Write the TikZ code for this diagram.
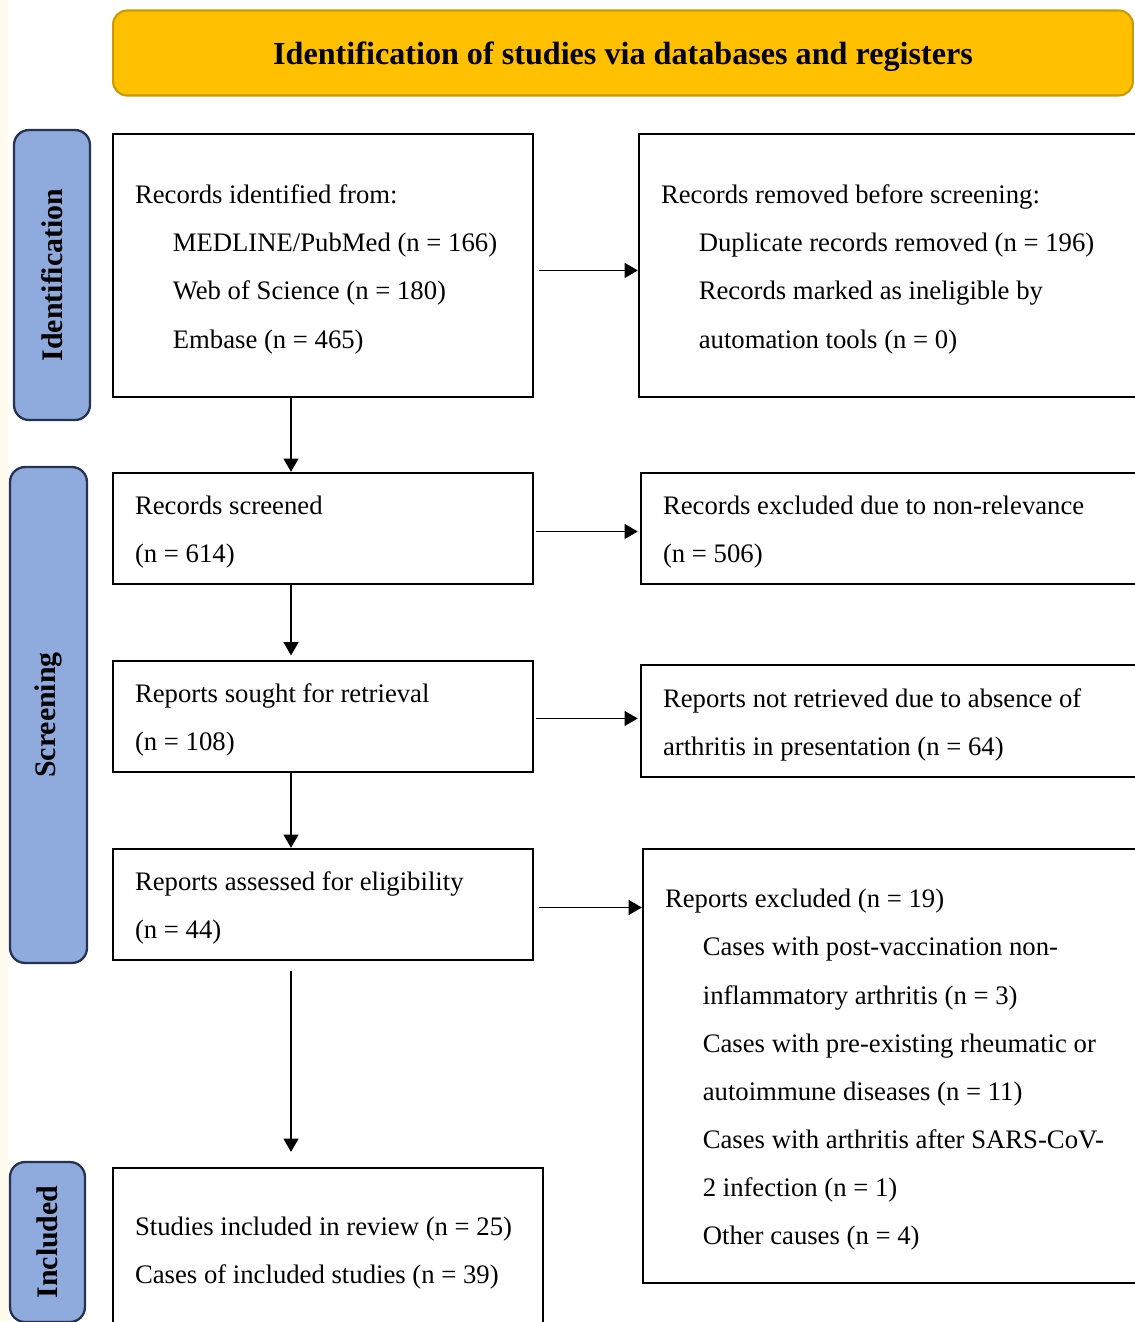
\documentclass[tikz,border=0pt]{standalone}
\usepackage{fontspec}
\setmainfont{Liberation Serif}
\usetikzlibrary{arrows.meta}
\definecolor{bannergold}{HTML}{FFC000}
\definecolor{bannerline}{HTML}{C99A06}
\definecolor{stripblue}{HTML}{8FAADC}
\definecolor{stripline}{HTML}{26324F}
\definecolor{pagecream}{HTML}{FFFCEE}
\newcommand{\indline}{\hspace*{21.5pt}}
\tikzset{
  flowbox/.style={draw, line width=1.4pt, rectangle, inner xsep=0.44cm, inner ysep=0pt,
    align=flush left, font=\fontsize{15.2pt}{27.4pt}\selectfont,
    execute at begin node={\rule{0pt}{15pt}}},
  phase/.style={draw=stripline, fill=stripblue, line width=1.3pt, rounded corners=0.3cm,
    rotate=90, minimum height=1.52cm, font=\fontsize{17pt}{20pt}\selectfont\bfseries},
  flow/.style={-{Triangle[length=7.5pt,width=8.5pt]}, line width=0.85pt},
}
\begin{document}
\begin{tikzpicture}[x=0.02cm, y=-0.02cm]
    \useasboundingbox (0,0) rectangle (1135,1322);
    \fill[white] (0,0) rectangle (1135,1322);
    \fill[pagecream] (0,0) rectangle (8,1322);
    % banner
    \node (A0_1) [draw=bannerline, fill=bannergold, line width=1.2pt, rounded corners=0.28cm,
      minimum width=20.4cm, minimum height=1.7cm, text depth=0pt,
      font=\fontsize{18.3pt}{22pt}\selectfont\bfseries]
      at (623,53) {Identification of studies via databases and registers};
    % phases
    \node (P1) [phase, minimum width=5.8cm] at (52,275) {Identification};
    \node (P2) [phase, minimum width=9.92cm, minimum height=1.54cm] at (48.5,715) {Screening};
    \node (P3) [phase, minimum width=3.2cm, minimum height=1.5cm] at (47.5,1242) {Included};
    % left column
    \node (A1_0) [flowbox, text width=7.52cm, minimum height=5.26cm] at (323,265.5)
      {Records identified from:\\ \indline MEDLINE/PubMed (n = 166)\\ \indline Web of Science (n = 180)\\ \indline Embase (n = 465)};
    \node (A2_0) [flowbox, text width=7.52cm, minimum height=2.22cm] at (323,528.5)
      {Records screened\\ (n = 614)};
    \node (A3_0) [flowbox, text width=7.52cm, minimum height=2.22cm] at (323,716.5)
      {Reports sought for retrieval\\ (n = 108)};
    \node (A4_0) [flowbox, text width=7.52cm, minimum height=2.22cm] at (323,904.5)
      {Reports assessed for eligibility\\ (n = 44)};
    \node (A5_0) [flowbox, text width=7.72cm, minimum height=3.24cm] at (328,1249)
      {Studies included in review (n = 25)\\ Cases of included studies (n = 39)};
    % right column
    \node (A1_1) [flowbox, text width=9.24cm, minimum height=5.26cm] at (892,265.5)
      {Records removed before screening:\\ \indline Duplicate records removed (n = 196)\\ \indline Records marked as ineligible by\\ \indline automation tools (n = 0)};
    \node (A2_1) [flowbox, text width=9.2cm, minimum height=2.22cm] at (893,528.5)
      {Records excluded due to non-relevance\\ (n = 506)};
    \node (A3_1) [flowbox, text width=9.2cm, minimum height=2.24cm] at (893,721)
      {Reports not retrieved due to absence of\\ arthritis in presentation (n = 64)};
    \node (A4_1) [flowbox, text width=9.16cm, minimum height=8.68cm] at (894,1066)
      {Reports excluded (n = 19)\\ \indline Cases with post-vaccination non-\\ \indline inflammatory arthritis (n = 3)\\
       \indline Cases with pre-existing rheumatic or\\ \indline autoimmune diseases (n = 11)\\
       \indline Cases with arthritis after SARS-CoV-\\ \indline 2 infection (n = 1)\\ \indline Other causes (n = 4)};
    % arrows
    \coordinate (spine) at (291,0);
    \draw[flow, shorten <=2.8pt] ([yshift=-2.8pt]A1_0.east) -- ([yshift=-2.8pt]A1_0.east -| A1_1.west);
    \draw[flow, shorten <=1.2pt, shorten >=1.2pt] ([yshift=-1.7pt]A2_0.east) -- ([yshift=-1.7pt]A2_0.east -| A2_1.west);
    \draw[flow, shorten <=1.2pt, shorten >=1.2pt] ([yshift=-1.1pt]A3_0.east) -- ([yshift=-1.1pt]A3_0.east -| A3_1.west);
    \draw[flow, shorten <=2.8pt] ([yshift=-1.7pt]A4_0.east) -- ([yshift=-1.7pt]A4_0.east -| A4_1.west);
    \draw[flow] (A1_0.south -| spine) -- (A2_0.north -| spine);
    \draw[flow, shorten >=2.5pt] (A2_0.south -| spine) -- (A3_0.north -| spine);
    \draw[flow] (A3_0.south -| spine) -- (A4_0.north -| spine);
    \draw[flow, shorten <=5.7pt, shorten >=8.5pt] (A4_0.south -| spine) -- (A5_0.north -| spine);
\end{tikzpicture}
\end{document}
